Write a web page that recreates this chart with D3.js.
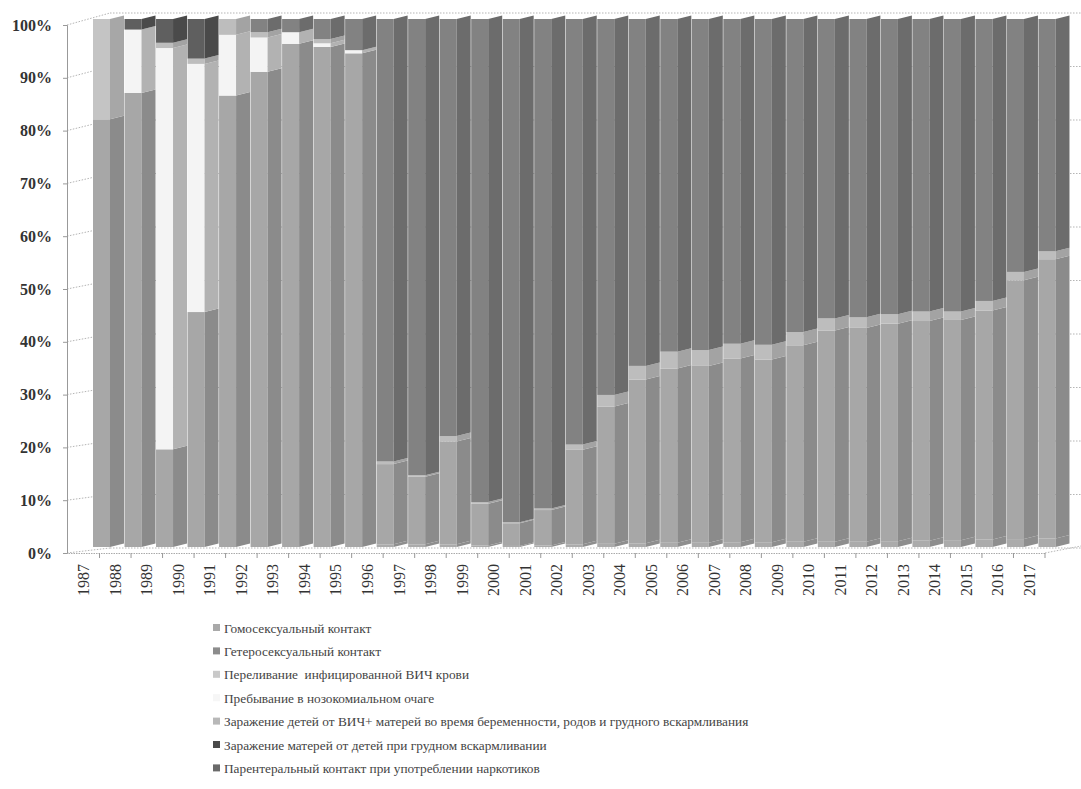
<!DOCTYPE html>
<html lang="ru">
    <head>
        <meta charset="utf-8">
        <title>Пути передачи ВИЧ</title>
        <script src="https://cdn.jsdelivr.net/npm/d3@7/dist/d3.min.js"></script>
    </head>

    <style>
        body { margin: 0; background: #fff; }
        svg { display: block; }
        .ylab text { font-family: "Liberation Serif", "Times New Roman", serif; font-weight: bold; font-size: 16px; fill: #333; }
        .xlab text { font-family: "Liberation Serif", "Times New Roman", serif; font-size: 16px; fill: #333; }
        .legend text { font-family: "Liberation Serif", "Times New Roman", serif; font-size: 13.3px; fill: #444; white-space: pre; }
    </style>

    <body>
        <script type="text/javascript">

            // years on the x axis
            var years = [1987, 1988, 1989, 1990, 1991, 1992, 1993, 1994, 1995, 1996,
                         1997, 1998, 1999, 2000, 2001, 2002, 2003, 2004, 2005, 2006,
                         2007, 2008, 2009, 2010, 2011, 2012, 2013, 2014, 2015, 2016, 2017];

            // legend names, in stacking order (bottom first)
            var seriesNames = [
                "Гомосексуальный контакт",
                "Гетеросексуальный контакт",
                "Переливание  инфицированной ВИЧ крови",
                "Пребывание в нозокомиальном очаге",
                "Заражение детей от ВИЧ+ матерей во время беременности, родов и грудного вскармливания",
                "Заражение матерей от детей при грудном вскармливании",
                "Парентеральный контакт при употреблении наркотиков"
            ];

            // shares in %, one array per series (same order as years)
            var homo =      [0, 0, 0, 0, 0, 0, 0, 0, 0, 0.5, 0.5, 0.5, 0.3, 0.2, 0.3, 0.5, 0.6, 0.7, 0.8, 0.8,
                             0.9, 0.9, 1, 1, 1, 1.1, 1.2, 1.3, 1.4, 1.5, 1.6];
            var hetero =    [81, 86, 18.5, 44.5, 85.5, 90, 95.3, 94.7, 93.5, 15.2, 12.8, 19.5, 7.9, 4.3, 6.7, 17.9, 26, 31, 33, 33.5,
                             34.8, 34.6, 37.2, 40, 40.5, 41.2, 41.6, 41.7, 43.4, 49, 52.9];
            var blood =     [19, 0, 0, 0, 0, 0, 0, 0, 0, 0, 0, 0, 0, 0, 0, 0, 0, 0, 0, 0,
                             0, 0, 0, 0, 0, 0, 0, 0, 0, 0, 0];
            var nosocomial = [0, 12, 76, 47, 11.5, 6.5, 2.2, 0.7, 0.6, 0, 0, 0, 0, 0, 0, 0, 0, 0, 0, 0,
                             0, 0, 0, 0, 0, 0, 0, 0, 0, 0, 0];
            var children =  [0, 0, 1, 1, 3, 1, 0, 0.8, 0, 0.5, 0.3, 1, 0.3, 0.2, 0.3, 1, 2.2, 2.6, 3.2, 3,
                             2.8, 2.8, 2.5, 2.3, 2, 1.8, 1.8, 1.6, 1.8, 1.6, 1.5];
            var mothers =   [0, 2, 4.5, 7.5, 0, 0, 0, 0, 0, 0, 0, 0, 0, 0, 0, 0, 0, 0, 0, 0,
                             0, 0, 0, 0, 0, 0, 0, 0, 0, 0, 0];
            var drugs =     [0, 0, 0, 0, 0, 2.5, 2.5, 3.8, 5.9, 83.8, 86.4, 79, 91.5, 95.3, 92.7, 80.6, 71.2, 65.7, 63, 62.7,
                             61.5, 61.7, 59.3, 56.7, 56.5, 55.9, 55.4, 55.4, 53.4, 47.9, 44];

            var seriesValues = [homo, hetero, blood, nosocomial, children, mothers, drugs];

            // front face / side face greys
            var frontColors = ["#ababab", "#a7a7a7", "#c4c4c4", "#f4f4f4", "#bdbdbd", "#5f5f5f", "#828282"];
            var sideColors  = ["#8e8e8e", "#8b8b8b", "#a7a7a7", "#b2b2b2", "#a3a3a3", "#4a4a4a", "#6c6c6c"];
            var swatchColors = ["#a9a9a9", "#8c8c8c", "#c9c9c9", "#f6f6f6", "#b8b8b8", "#4a4a4a", "#6a6a6a"];

            var yTicks = [0, 0.1, 0.2, 0.3, 0.4, 0.5, 0.6, 0.7, 0.8, 0.9, 1];

            // build rows for d3.stack
            var rows = years.map(function(y, i) {
                var r = { year: y };
                seriesNames.forEach(function(n, k) { r[n] = seriesValues[k][i]; });
                return r;
            });

            var w = 1081, h = 789;
            var svg = d3.select("body").append("svg").attr("width", w).attr("height", h);

            var stack = d3.stack().keys(seriesNames).offset(d3.stackOffsetExpand);
            var layers = stack(rows);

            // floor / axis scale and the (shifted back) bar scale
            var x = d3.scaleBand().domain(years).range([68, 1045]).paddingInner(0).paddingOuter(0);
            var yAxisScale = d3.scaleLinear().domain([0, 1]).range([553, 25]);
            var yBar = d3.scaleLinear().domain([0, 1]).range([547, 19]);
            var yBack = d3.scaleLinear().domain([0, 1]).range([548, 13]);

            var depthX = 25;     // bars sit behind the front floor edge
            var faceW = 17, sideW = 14, slant = 3.5;

            // ---- walls / gridlines (drawn first, bars cover most of it)
            var grid = svg.append("g").attr("stroke", "#b5b5b5").attr("stroke-width", 1)
                .attr("stroke-dasharray", "1.5,1.5").attr("fill", "none");

            grid.selectAll("line.back").data(yTicks).enter().append("line")
                .attr("class", "back")
                .attr("x1", 110).attr("x2", 1081)
                .attr("y1", function(d) { return yBack(d); })
                .attr("y2", function(d) { return yBack(d); });

            // left wall lines going from the axis into the depth
            grid.selectAll("line.side").data(yTicks).enter().append("line")
                .attr("class", "side")
                .attr("x1", 67).attr("x2", 110)
                .attr("y1", function(d) { return yAxisScale(d); })
                .attr("y2", function(d) { return yBack(d); });

            // floor edge on the right
            grid.append("line").attr("x1", 1045).attr("y1", 553).attr("x2", 1081).attr("y2", 546);

            // ---- bars
            var barsG = svg.append("g");
            layers.forEach(function(layer, k) {
                var g = barsG.append("g");

                g.selectAll("rect").data(layer).enter().append("rect")
                    .attr("x", function(d) { return x(d.data.year) + depthX; })
                    .attr("width", faceW)
                    .attr("y", function(d) { return yBar(d[1]); })
                    .attr("height", function(d) { return yBar(d[0]) - yBar(d[1]); })
                    .attr("fill", frontColors[k]);

                // side face as a parallelogram
                g.selectAll("path").data(layer).enter().append("path")
                    .attr("d", function(d) {
                        var x0 = x(d.data.year) + depthX + faceW;
                        var t = yBar(d[1]), b = yBar(d[0]);
                        return "M" + x0 + "," + t + "L" + (x0 + sideW) + "," + (t - slant) +
                               "L" + (x0 + sideW) + "," + (b - slant) + "L" + x0 + "," + b + "Z";
                    })
                    .attr("fill", sideColors[k]);
            });

            // ---- y axis
            var yAxis = d3.axisLeft(yAxisScale).tickValues(yTicks).tickFormat(d3.format(".0%"))
                .tickSize(4).tickPadding(11);
            var yg = svg.append("g").attr("class", "ylab").attr("transform", "translate(67,0)").call(yAxis);
            yg.select(".domain").attr("stroke", "#999");
            yg.selectAll(".tick line").attr("stroke", "#999");

            // ---- x axis (labels at band centres, ticks between categories)
            var xAxis = d3.axisBottom(x).tickSize(0).tickPadding(0);
            var xg = svg.append("g").attr("class", "xlab").attr("transform", "translate(0,553)").call(xAxis);
            xg.select(".domain").attr("stroke", "#aaa").attr("stroke-dasharray", "1.5,1");
            xg.selectAll("text")
                .attr("transform", "rotate(-90)")
                .attr("x", -11).attr("y", 0).attr("dy", "0.35em")
                .style("text-anchor", "end");

            svg.append("g").selectAll("line").data(years).enter().append("line")
                .attr("x1", function(d) { return x(d) + x.bandwidth(); })
                .attr("x2", function(d) { return x(d) + x.bandwidth(); })
                .attr("y1", 553).attr("y2", 558)
                .attr("stroke", "#999");

            // ---- legend
            var legend = svg.append("g").attr("class", "legend").attr("transform", "translate(213,628)");
            var items = legend.selectAll("g").data(seriesNames).enter().append("g")
                .attr("transform", function(d, i) { return "translate(0," + (i * 23.4) + ")"; });
            items.append("rect").attr("x", 0).attr("y", -4).attr("width", 7).attr("height", 7)
                .attr("fill", function(d, i) { return swatchColors[i]; });
            items.append("text").attr("x", 11).attr("y", 0).attr("dy", "0.35em")
                .text(function(d) { return d; });

        </script>
    </body>
</html>
